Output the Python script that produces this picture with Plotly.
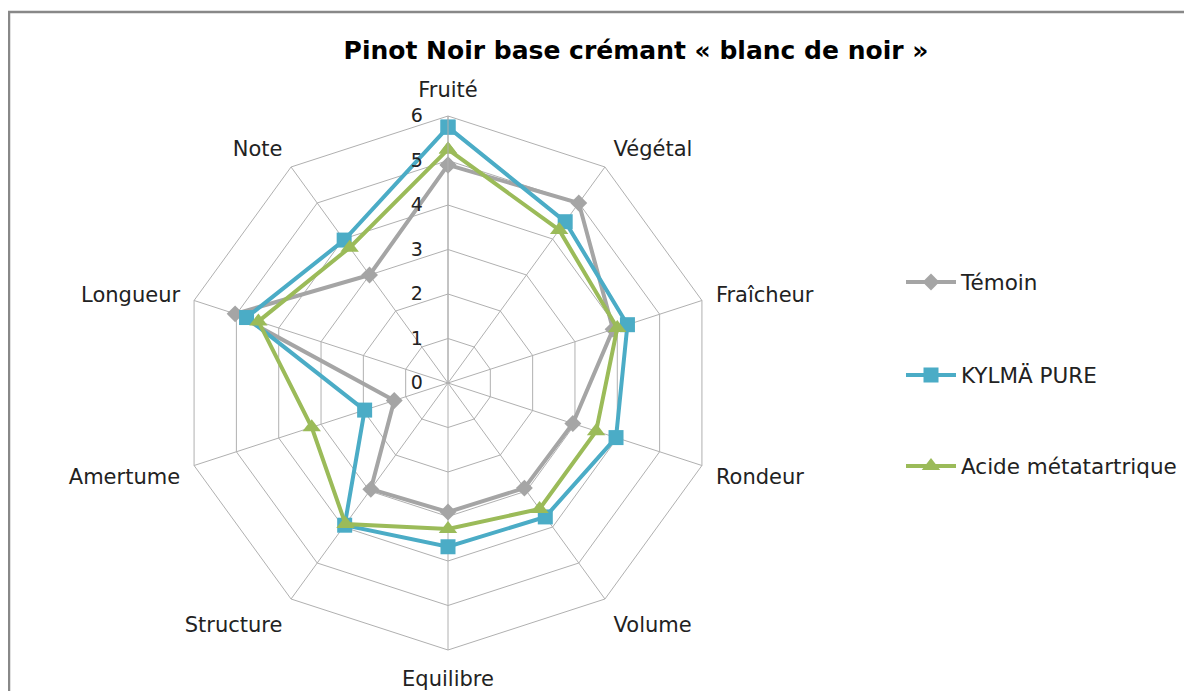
import plotly.graph_objects as go

categories = ["Fruité", "Végétal", "Fraîcheur", "Rondeur", "Volume",
              "Equilibre", "Structure", "Amertume", "Longueur", "Note"]
temoin = [4.9, 5.0, 3.9, 2.95, 2.92, 2.9, 2.95, 1.27, 5.03, 3.0]
kylma = [5.75, 4.48, 4.24, 3.97, 3.72, 3.68, 3.95, 1.97, 4.76, 3.97]
acide = [5.25, 4.25, 4.0, 3.5, 3.5, 3.28, 3.92, 3.22, 4.48, 3.76]
radial_ticks = [0, 1, 2, 3, 4, 5, 6]

W, H = 1192, 691
# page has 8px body margin; figure coordinates = page - 8
cx, cy, R = 440, 375, 267

FONT = "DejaVu Sans"

def closed(v):
    return v + v[:1]

fig = go.Figure()
fig.add_trace(go.Scatterpolar(
    r=closed(temoin), theta=closed(categories), name="Témoin", mode="lines+markers",
    line=dict(color="#a5a5a5", width=4),
    marker=dict(symbol="diamond", size=13, color="#a5a5a5"),
    legend="legend", showlegend=True))
fig.add_trace(go.Scatterpolar(
    r=closed(kylma), theta=closed(categories), name="KYLMÄ PURE", mode="lines+markers",
    line=dict(color="#4bacc6", width=4),
    marker=dict(symbol="square", size=15, color="#4bacc6"),
    legend="legend2", showlegend=True))
fig.add_trace(go.Scatterpolar(
    r=closed(acide), theta=closed(categories), name="Acide métatartrique", mode="lines+markers",
    line=dict(color="#9bbb59", width=4),
    marker=dict(symbol="triangle-up", size=16, color="#9bbb59"),
    legend="legend3", showlegend=True))

legend_common = dict(font=dict(family=FONT, size=21.5, color="#222"),
                     bgcolor="rgba(0,0,0,0)", xanchor="left", yanchor="middle",
                     x=893 / W, itemwidth=50)

fig.update_layout(
    width=W, height=H,
    showlegend=True,
    margin=dict(l=0, r=0, t=0, b=0),
    paper_bgcolor="white",
    font=dict(family=FONT, color="#222"),
    title=dict(text="<b>Pinot Noir base crémant « blanc de noir »</b>",
               x=628 / W, xanchor="center", y=1 - 42 / H, yanchor="middle",
               font=dict(family=FONT, size=25, color="black")),
    polar=dict(
        domain=dict(x=[(cx - R) / W, (cx + R) / W],
                    y=[1 - (cy + R) / H, 1 - (cy - R) / H]),
        bgcolor="white",
        gridshape="linear",
        radialaxis=dict(range=[0, 6], tickvals=radial_ticks, angle=90,
                        side="counterclockwise", tickangle=90,
                        showline=True, linecolor="#b0b0b0", linewidth=1,
                        gridcolor="#b0b0b0", gridwidth=1,
                        ticks="outside", ticklen=18, tickcolor="rgba(0,0,0,0)",
                        tickfont=dict(family=FONT, size=19, color="#222")),
        angularaxis=dict(rotation=90, direction="clockwise",
                         showline=True, linecolor="#b0b0b0", linewidth=1,
                         gridcolor="#b0b0b0", gridwidth=1,
                         ticks="outside", ticklen=10, tickcolor="rgba(0,0,0,0)",
                         tickfont=dict(family=FONT, size=21, color="#222")),
    ),
    legend=dict(y=1 - 274 / H, **legend_common),
    legend2=dict(y=1 - 367 / H, **legend_common),
    legend3=dict(y=1 - 458 / H, **legend_common),
    shapes=[dict(type="rect", xref="paper", yref="paper",
                 x0=1 / W, x1=1.02, y0=-0.02, y1=1 - 4 / H,
                 line=dict(color="#888888", width=2.5), fillcolor="rgba(0,0,0,0)")],
)

fig.write_html("out.html")
